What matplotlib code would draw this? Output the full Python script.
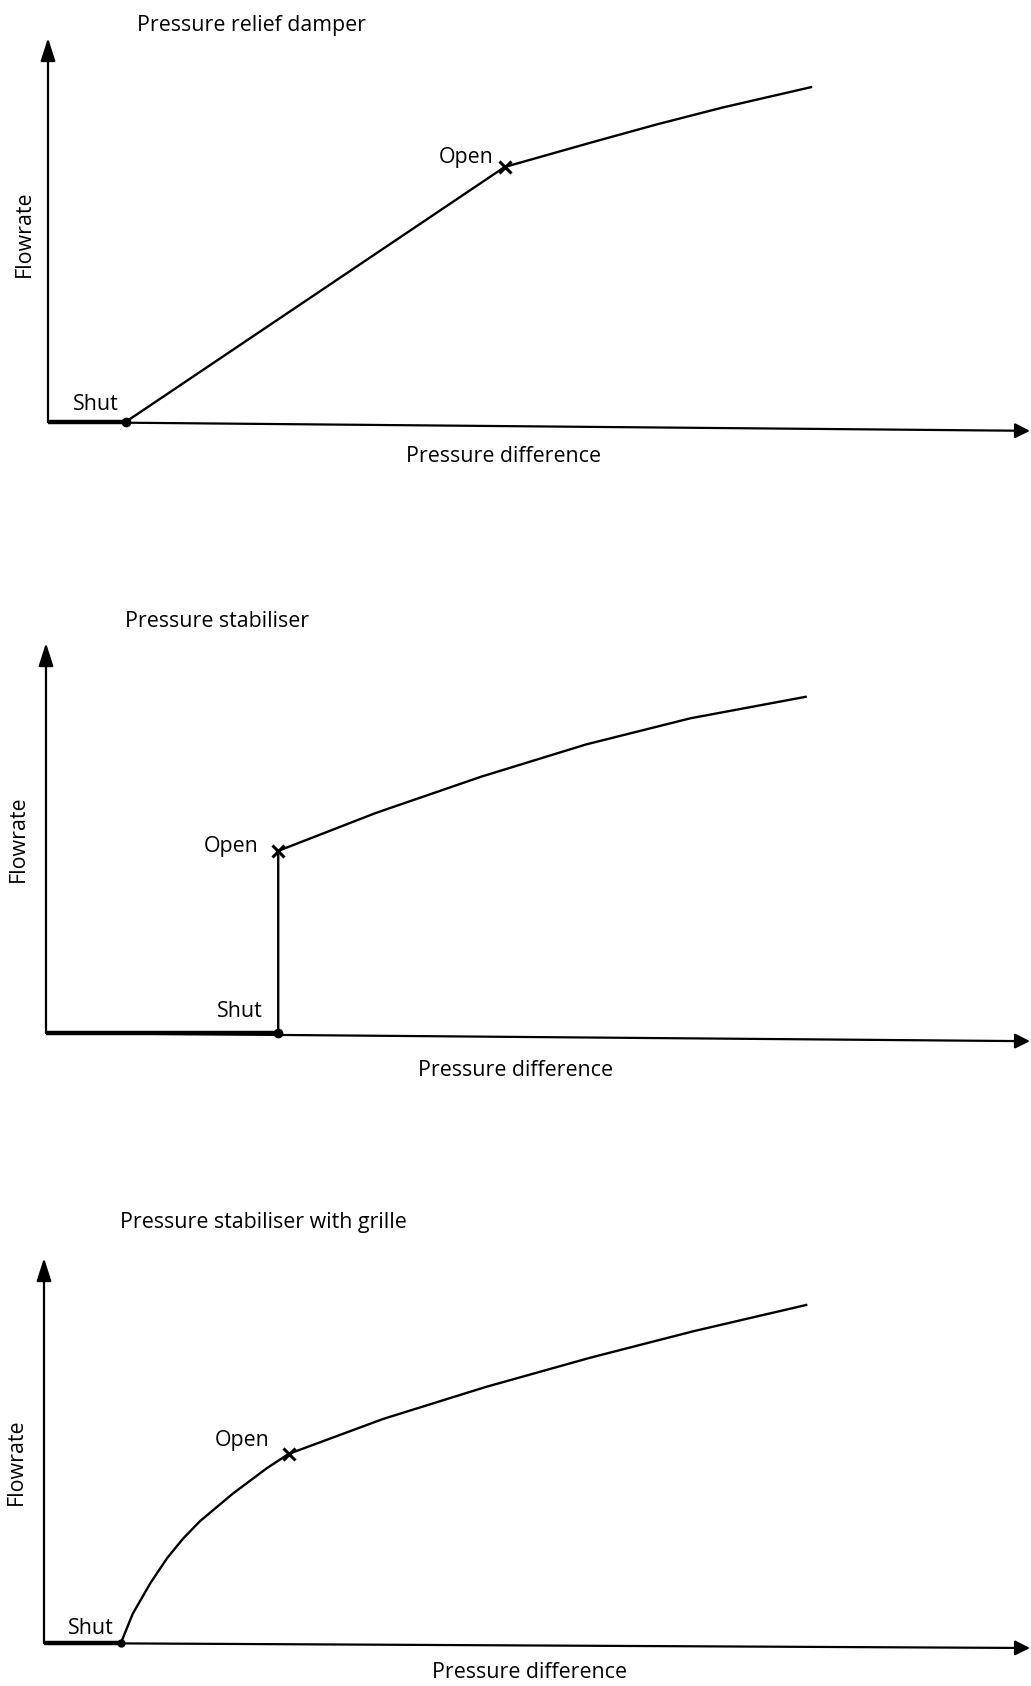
import matplotlib.pyplot as plt

plt.rcParams['font.family'] = ['Open Sans', 'DejaVu Sans']

FIG_W, FIG_H = 1031, 1686

TITLES = ['Pressure relief damper', 'Pressure stabiliser', 'Pressure stabiliser with grille']
X_LABEL = 'Pressure difference'
Y_LABEL = 'Flowrate'

# characteristic curves: pressure difference (0-100) vs flowrate (0-100)
relief_p = [7.9, 46.5, 55.2, 62.0, 68.7, 77.7]
relief_q = [0, 66.4, 72.7, 77.5, 81.9, 87.2]

stab_p = [23.6, 23.6, 33.5, 44.2, 54.9, 65.5, 77.2]
stab_q = [0, 46.7, 56.4, 65.7, 74.0, 80.7, 86.2]

grille_p = [7.8, 9.0, 10.8, 12.5, 14.1, 15.8, 19.2, 22.6, 24.8, 34.4, 44.8, 55.4, 65.9, 77.3]
grille_q = [0, 7.6, 15.6, 22.1, 27.1, 31.6, 38.9, 45.4, 49.1, 58.2, 66.5, 74.1, 81.0, 87.8]

# index of the "Shut" and "Open" points in each curve
SHUT_IDX = [0, 0, 0]
OPEN_IDX = [1, 1, 8]

# ----- layout (pixels in the 1031x1686 figure) -----
# axes frame: x of y-axis, x of arrow tip, y of x-axis, y of arrow tip
FRAMES = [(48, 1030, 422, 38), (46, 1030, 1033, 643), (44, 1030, 1643, 1258)]
X_AXIS_DROP = [-2.3, -2.1, -1.3]   # scanned x-axis droops slightly to the right
TITLE_POS = [(137, 31), (125, 627), (120, 1228)]
OPEN_POS = [(439, 163), (204, 852), (215, 1446)]
SHUT_POS = [(73, 410), (217, 1017), (68, 1634)]
YLAB_POS = [(24, 234), (18, 839), (16, 1462)]
XLAB_POS = [(503, 462), (516, 1076), (530, 1678)]

FS = 15.4


def fx(px):
    return px / FIG_W


def fy(py):
    return 1 - py / FIG_H


def draw_panel(fig, i, p, q):
    x0, x1, ybot, ytop = FRAMES[i]
    ax = fig.add_axes([fx(x0), fy(ybot), fx(x1 - x0), (ybot - ytop) / FIG_H])
    ax.set_xlim(0, 100)
    ax.set_ylim(0, 100)
    ax.axis('off')

    # axes with arrows
    arrow = dict(arrowstyle='-|>,head_length=1.4,head_width=0.45', color='black',
                 lw=1.6, shrinkA=0, shrinkB=0, mutation_scale=10)
    ax.annotate('', xy=(0, 100), xytext=(0, 0), arrowprops=arrow, annotation_clip=False)
    arrow_x = dict(arrow, arrowstyle='-|>,head_length=0.9,head_width=0.45')
    ax.annotate('', xy=(100, X_AXIS_DROP[i]), xytext=(0, 0), arrowprops=arrow_x,
                annotation_clip=False)

    s, o = SHUT_IDX[i], OPEN_IDX[i]
    # shut segment along the axis
    ax.plot([0, p[s]], [0, q[s]], color='black', lw=3.2, solid_capstyle='butt', clip_on=False)
    # characteristic
    ax.plot(p, q, color='black', lw=1.7, clip_on=False, solid_joinstyle='round')
    ax.plot(p[s], q[s], 'o', color='black', ms=6 if i < 2 else 5, clip_on=False)
    ax.plot(p[o], q[o], 'x', color='black', ms=8, mew=2.2, clip_on=False)

    fig.text(fx(TITLE_POS[i][0]), fy(TITLE_POS[i][1]), TITLES[i], fontsize=FS,
             ha='left', va='baseline')
    fig.text(fx(OPEN_POS[i][0]), fy(OPEN_POS[i][1]), 'Open', fontsize=FS,
             ha='left', va='baseline')
    fig.text(fx(SHUT_POS[i][0]), fy(SHUT_POS[i][1]), 'Shut', fontsize=FS,
             ha='left', va='baseline')
    fig.text(fx(YLAB_POS[i][0]), fy(YLAB_POS[i][1]), Y_LABEL, fontsize=FS,
             ha='center', va='center', rotation=90)
    fig.text(fx(XLAB_POS[i][0]), fy(XLAB_POS[i][1]), X_LABEL, fontsize=FS,
             ha='center', va='baseline')


def main():
    fig = plt.figure(figsize=(FIG_W / 100, FIG_H / 100), dpi=100)
    fig.patch.set_facecolor('white')
    for i, (p, q) in enumerate([(relief_p, relief_q), (stab_p, stab_q), (grille_p, grille_q)]):
        draw_panel(fig, i, p, q)
    fig.savefig('out.png', dpi=100, facecolor='white')


if __name__ == '__main__':
    main()
